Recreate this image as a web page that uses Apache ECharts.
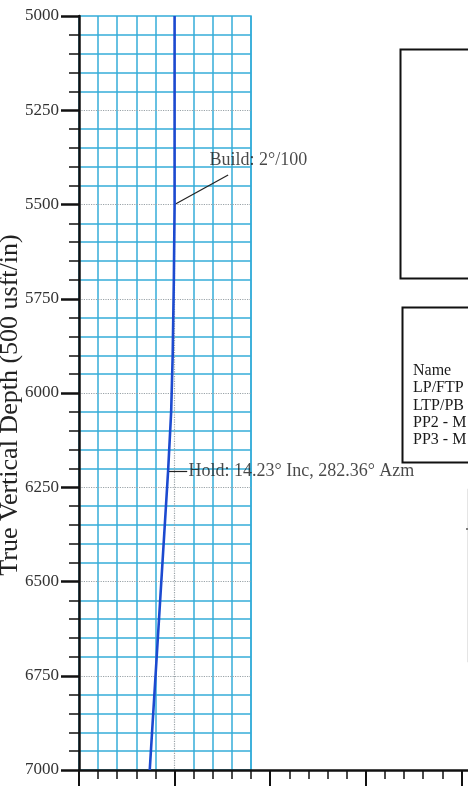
<!DOCTYPE html>
<html>
<head>
<meta charset="utf-8">
<script src="https://cdn.jsdelivr.net/npm/echarts@6/dist/echarts.min.js"></script>
<style>
html,body{margin:0;padding:0;background:#fff;}
#chart{width:468px;height:786px;}
</style>
</head>
<body>
<div id="chart"></div>
<script>
// ---- data ----
var vsValues  = [0, 0, -2, -5, -9, -17, -65];            // vertical section (usft)
var tvdValues = [5000, 5500, 5700, 5900, 6050, 6207, 7000]; // true vertical depth (usft)
var tvdTicks = { min: 5000, max: 7000, interval: 250 };
var vsTicks  = { min: -250, max: 1000, interval: 250 };
var annotationText = ['Build: 2°/100', 'Hold: 14.23° Inc, 282.36° Azm'];
var annotationAnchor = [[90, 5382], [35, 6207]];
var leaderLines = [[[0, 5500], [140, 5422]], [[-17, 6207], [33, 6207]]];
var tableRows = ['Name', 'LP/FTP', 'LTP/PB', 'PP2 - M', 'PP3 - M'];

var serif = '"Liberation Serif", "DejaVu Serif", serif';
var cyan = '#35acd9';
var transparent = 'rgba(0,0,0,0)';

var trajectory = vsValues.map(function (v, i) { return [v, tvdValues[i]]; });

var chart = echarts.init(document.getElementById('chart'), null, { renderer: 'canvas' });

var gridCommon = { top: 16, bottom: 16, left: 79, containLabel: false, outerBoundsMode: 'none' };

var option = {
  backgroundColor: '#fff',
  animation: false,
  grid: [
    Object.assign({ right: -89 }, gridCommon),                              // main axes
    Object.assign({ right: 217, show: true, borderColor: cyan, borderWidth: 1.5,
                    backgroundColor: transparent }, gridCommon),              // cyan fine grid
    Object.assign({ right: 217 }, gridCommon)                                // dotted major grid
  ],
  xAxis: [
    {
      gridIndex: 0, type: 'value', min: vsTicks.min, max: vsTicks.max, interval: vsTicks.interval,
      position: 'bottom', z: 5,
      axisLine: { show: true, onZero: false, lineStyle: { color: '#111', width: 2.5 } },
      axisTick: { show: true, inside: false, length: 18, lineStyle: { color: '#111', width: 2 } },
      minorTick: { show: true, splitNumber: 5, length: 9, lineStyle: { color: '#111', width: 1.5 } },
      axisLabel: { show: false },
      splitLine: { show: false }
    },
    {
      gridIndex: 1, type: 'value', min: -250, max: 200, interval: 50, z: 0,
      axisLine: { show: false }, axisTick: { show: false }, axisLabel: { show: false },
      splitLine: { show: true, showMinLine: true, showMaxLine: true,
        lineStyle: { color: [transparent, cyan, cyan, cyan, cyan], width: 1.5 } }
    },
    {
      gridIndex: 2, type: 'value', min: -250, max: 200, interval: 250, z: 1,
      axisLine: { show: false }, axisTick: { show: false }, axisLabel: { show: false },
      splitLine: { show: true, showMinLine: false, showMaxLine: false,
        lineStyle: { color: '#9aa3a8', width: 1.2, type: 'dotted' } }
    }
  ],
  yAxis: [
    {
      gridIndex: 0, type: 'value', inverse: true,
      min: tvdTicks.min, max: tvdTicks.max, interval: tvdTicks.interval, z: 5,
      name: 'True Vertical Depth (500 usft/in)', nameLocation: 'middle', nameGap: 56,
      nameMoveOverlap: false,
      nameTextStyle: { fontFamily: serif, fontSize: 26, color: '#222', padding: [0, 24, 0, 0] },
      axisLine: { show: true, onZero: false, lineStyle: { color: '#111', width: 2.5 } },
      axisTick: { show: true, inside: false, length: 18, lineStyle: { color: '#111', width: 2.5 } },
      minorTick: { show: true, splitNumber: 5, length: 10, lineStyle: { color: '#111', width: 1.5 } },
      axisLabel: { show: true, margin: 20, fontFamily: serif, fontSize: 17, color: '#333',
        formatter: function (v) { return String(v); } },
      splitLine: { show: false }
    },
    {
      gridIndex: 1, type: 'value', inverse: true, min: 5000, max: 7000, interval: 50, z: 0,
      axisLine: { show: false }, axisTick: { show: false }, axisLabel: { show: false },
      splitLine: { show: true, showMinLine: true, showMaxLine: true,
        lineStyle: { color: [transparent, cyan, cyan, cyan, cyan], width: 1.5 } }
    },
    {
      gridIndex: 2, type: 'value', inverse: true, min: 5000, max: 7000, interval: 250, z: 1,
      axisLine: { show: false }, axisTick: { show: false }, axisLabel: { show: false },
      splitLine: { show: true, showMinLine: false, showMaxLine: false,
        lineStyle: { color: '#9aa3a8', width: 1.2, type: 'dotted' } }
    }
  ],
  series: [
    {
      type: 'line', xAxisIndex: 0, yAxisIndex: 0, z: 6,
      data: trajectory, showSymbol: false, symbol: 'none', smooth: false,
      lineStyle: { color: '#1c4ad0', width: 2.6 },
      markLine: {
        silent: true, symbol: 'none', animation: false,
        label: { show: false },
        lineStyle: { color: '#222', width: 1.2, type: 'solid' },
        data: leaderLines.map(function (l) {
          return [{ coord: l[0] }, { coord: l[1] }];
        })
      }
    },
    {
      type: 'scatter', xAxisIndex: 0, yAxisIndex: 0, z: 7,
      symbolSize: 1, itemStyle: { color: transparent },
      data: annotationAnchor.map(function (a, i) { return [a[0], a[1], annotationText[i]]; }),
      label: {
        show: true, position: 'right', distance: 0,
        fontFamily: serif, fontSize: 18, color: '#1a1a1a',
        formatter: function (p) { return p.value[2]; }
      }
    }
  ],
  graphic: [
    { type: 'rect', left: 398, top: 47, shape: { width: 200, height: 229 },
      style: { fill: 'none', stroke: '#111', lineWidth: 2 } },
    { type: 'rect', left: 400, top: 305, shape: { width: 200, height: 155 },
      style: { fill: 'none', stroke: '#111', lineWidth: 2 } },
    { type: 'rect', left: 466, top: 487, shape: { width: 100, height: 172 },
      style: { fill: 'none', stroke: '#555', lineWidth: 1.3 } },
    { type: 'line', shape: { x1: 466, y1: 529, x2: 470, y2: 529 },
      style: { stroke: '#555', lineWidth: 1.3 } }
  ].concat(tableRows.map(function (t, i) {
    return { type: 'text', left: 413, top: 363 + i * 17.2,
      style: { text: t, font: '16px ' + serif, fill: '#1a1a1a' } };
  }))
};

chart.setOption(option);
</script>
</body>
</html>
